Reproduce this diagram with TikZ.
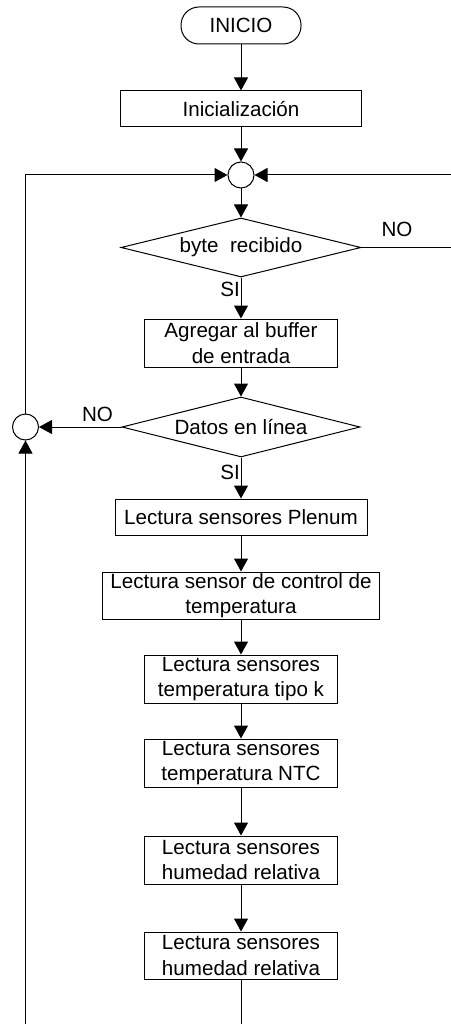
\documentclass[tikz,border=0pt]{standalone}
\usepackage{fontspec}
\setmainfont{Liberation Sans}
\usetikzlibrary{arrows.meta,shapes.geometric}
\begin{document}
\begin{tikzpicture}[x=1pt,y=-1pt,
  every node/.style={font=\fontsize{20.6}{25.5}\selectfont},
  box/.style={draw,line width=1pt,rectangle,inner sep=0pt,align=center},
  cond/.style={draw,line width=1pt,diamond,aspect=4,inner sep=0pt},
  junc/.style={draw,line width=1pt,circle,minimum size=26pt,inner sep=0pt},
  flow/.style={line width=1pt,-{Triangle[length=13pt,width=14pt]}},
  plain/.style={line width=1pt},
  lbl/.style={inner sep=0pt}]
\useasboundingbox (0,0) rectangle (450,1024);
\node[box,rounded corners=18pt,minimum width=120pt,minimum height=37pt] (inicio) at (241,25.5) {INICIO};
\node[box,minimum width=241pt,minimum height=36pt] (init) at (241,109) {Inicialización};
\node[junc] (c1) at (241,175) {};
\node[cond,minimum width=240pt,minimum height=59pt] (d1) at (241,247.5) {byte\ \ recibido};
\node[box,minimum width=193pt,minimum height=48pt] (buf) at (241,343) {Agregar al buffer\\de entrada};
\node[cond,minimum width=238pt,minimum height=60pt] (d2) at (241,427) {Datos en línea};
\node[junc] (c2) at (25.5,427) {};
\node[box,minimum width=252pt,minimum height=36pt] (plen) at (241,517) {Lectura sensores Plenum};
\node[box,minimum width=277pt,minimum height=47pt] (ctrl) at (241,595.5) {Lectura sensor de control de\\temperatura};
\node[box,minimum width=193pt,minimum height=48pt] (tk) at (241,679) {Lectura sensores\\temperatura tipo k};
\node[box,minimum width=193pt,minimum height=48pt] (ntc) at (241,763) {Lectura sensores\\temperatura NTC};
\node[box,minimum width=193pt,minimum height=48pt] (h1) at (241,860) {Lectura sensores\\humedad relativa};
\node[box,minimum width=193pt,minimum height=47pt] (h2) at (241,955.5) {Lectura sensores\\humedad relativa};
\coordinate (rtop) at (453,175);
\coordinate (rmid) at (453,247.5);
\coordinate (lbot) at (25.5,1027);
\coordinate (cbot) at (241,1027);
\coordinate (ltop) at (25.5,175);
\node[lbl] (no1) at (397,229) {NO};
\node[lbl] (no2) at (97.5,414) {NO};
\node[lbl,anchor=east] (si1) at (240,289) {SI};
\node[lbl,anchor=east] (si2) at (240,472) {SI};
\draw[flow] (inicio) -- (init);
\draw[flow] (init) -- (c1);
\draw[flow] (c1) -- (d1);
\draw[flow] (d1.south) -- (buf.north);
\draw[flow] (d1.east) -- (rmid) -- (rtop) -- (c1.east);
\draw[flow] (buf) -- (d2.north);
\draw[flow] (d2.west) -- (c2.east);
\draw[flow] (d2.south) -- (plen.north);
\draw[flow] (plen) -- (ctrl);
\draw[flow] (ctrl) -- (tk);
\draw[flow] (tk) -- (ntc);
\draw[flow] (ntc) -- (h1);
\draw[flow] (h1) -- (h2);
\draw[flow] (h2.south) -- (cbot) -- (lbot) -- (c2.south);
\draw[flow] (c2.north) -- (ltop) -- (c1.west);
\end{tikzpicture}
\end{document}
